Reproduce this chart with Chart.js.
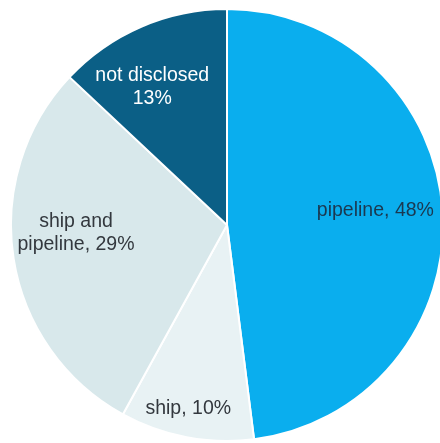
<!DOCTYPE html>
<html>
<head>
<meta charset="utf-8">
<script src="https://cdn.jsdelivr.net/npm/chart.js@4.4.1/dist/chart.umd.min.js"></script>
<style>
  html, body { margin: 0; padding: 0; background: #fff; overflow: hidden; width: 440px; height: 443px; }
  #wrap { position: absolute; left: 10px; top: 8px; width: 434px; height: 434px; }
</style>
</head>
<body>
<div id="wrap"><canvas id="pie"></canvas></div>
<script>
// Transport mode shares (%), clockwise from 12 o'clock
const categories = ['pipeline', 'ship', 'ship and pipeline', 'not disclosed'];
const shares = [48, 10, 29, 13];
const labelLines = [
  ['pipeline, 48%'],
  ['ship, 10%'],
  ['ship and', 'pipeline, 29%'],
  ['not disclosed', '13%']
];

const sliceColors = ['#0aaeee', '#e8f2f4', '#d8e8eb', '#0b5f86'];
const textColors = ['#1b3850', '#33383e', '#33383e', '#ffffff'];
// where each label sits: fraction of radius, angle (deg clockwise from top)
const labelSpots = [[0.69, 84.6], [0.87, 191.9], [0.70, 267], [0.725, 331.5]];

const sliceLabels = {
  id: 'sliceLabels',
  afterDatasetsDraw(chart) {
    const ctx = chart.ctx;
    const arcs = chart.getDatasetMeta(0).data;
    ctx.save();
    ctx.font = '19.5px "Liberation Sans", Arial, sans-serif';
    ctx.textAlign = 'center';
    ctx.textBaseline = 'middle';
    arcs.forEach((arc, i) => {
      const [f, deg] = labelSpots[i];
      const a = deg * Math.PI / 180;
      const r = arc.outerRadius * f;
      const x = arc.x + r * Math.sin(a);
      const y = arc.y - r * Math.cos(a);
      const lines = labelLines[i];
      const lh = 23;
      ctx.fillStyle = textColors[i];
      lines.forEach((t, k) => {
        ctx.fillText(t, x, y + (k - (lines.length - 1) / 2) * lh);
      });
    });
    ctx.restore();
  }
};

new Chart(document.getElementById('pie'), {
  type: 'pie',
  data: {
    labels: categories,
    datasets: [{
      data: shares,
      backgroundColor: sliceColors,
      borderColor: '#ffffff',
      borderWidth: 2
    }]
  },
  options: {
    responsive: true,
    maintainAspectRatio: false,
    animation: false,
    layout: { padding: 0 },
    plugins: {
      legend: { display: false },
      tooltip: { enabled: false }
    }
  },
  plugins: [sliceLabels]
});
</script>
</body>
</html>
